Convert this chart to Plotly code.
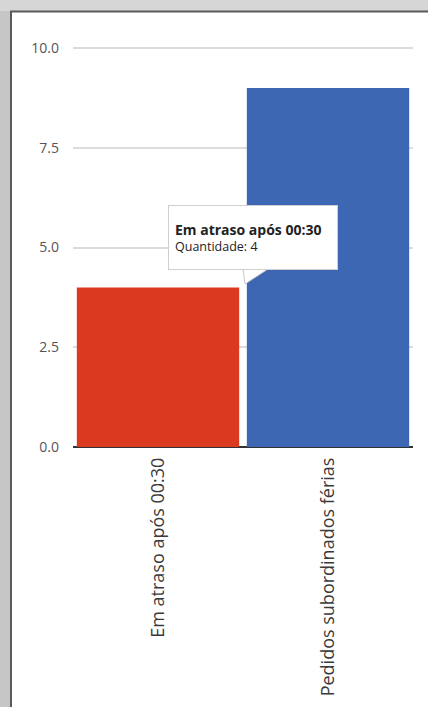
import plotly.graph_objects as go

categories = ["Em atraso após 00:30", "Pedidos subordinados férias"]
values = [4, 9]
colors = ["#db3a21", "#3d67b3"]
y_ticks = [0, 2.5, 5, 7.5, 10]
y_tick_labels = ["0.0", "2.5", "5.0", "7.5", "10.0"]
tooltip_title = "Em atraso após 00:30"
tooltip_label = "Quantidade"

W, H = 428, 707
L, R, T, B = 73, 15, 36, 260
pw, ph = W - L - R, H - T - B
YMAX = ph / 39.9

def px(x):
    return (x - L) / pw

def py(y):
    return (H - B - y) / ph

fig = go.Figure()
fig.add_trace(go.Bar(
    x=categories, y=values, marker=dict(color=colors, line=dict(width=0)),
    hoverinfo="skip", showlegend=False,
))

shapes = [
    # gray frame left and top
    dict(type="rect", xref="paper", yref="paper", x0=px(-5), x1=px(10), y0=py(H + 5), y1=py(-5),
         fillcolor="#c6c6c6", line=dict(width=0), layer="below"),
    dict(type="rect", xref="paper", yref="paper", x0=px(-5), x1=px(W + 5), y0=py(11), y1=py(-5),
         fillcolor="#d6d6d6", line=dict(width=0), layer="below"),
    dict(type="line", xref="paper", yref="paper", x0=px(11), x1=px(11), y0=py(11), y1=py(H + 5),
         line=dict(color="#5a5a5a", width=2)),
    dict(type="line", xref="paper", yref="paper", x0=px(10), x1=px(W + 5), y0=py(11.5), y1=py(11.5),
         line=dict(color="#5a5a5a", width=2)),
    # tooltip pointer
    dict(type="path", xref="paper", yref="paper",
         path=f"M {px(243)},{py(269)} L {px(245)},{py(284)} L {px(268)},{py(269)} Z",
         fillcolor="white", line=dict(color="#c8c8c8", width=1)),
]

fig.add_annotation(
    xref="x", yref="y", x=-0.5 + (168 - L) / pw * 2, y=YMAX * (H - B - 205) / ph,
    xanchor="left", yanchor="top", showarrow=False, align="left",
    text=(f"<span style='font-size:14px'><b>{tooltip_title}</b></span>"
          f"<br>{tooltip_label}: {values[0]}"),
    font=dict(family="Open Sans", size=12.5, color="#222222"),
    bgcolor="white", bordercolor="#cfcfcf", borderwidth=1, borderpad=6,
    width=156, height=51,
)

fig.update_layout(
    width=W, height=H,
    margin=dict(l=L, r=R, t=T, b=B, autoexpand=False),
    paper_bgcolor="white", plot_bgcolor="white",
    bargap=0.045,
    shapes=shapes,
    xaxis=dict(
        type="category", tickangle=-90, showgrid=False, showline=False, ticks="",
        tickfont=dict(family="Open Sans", size=18, color="#3a3a3a"),
        ticklabelstandoff=6,
        range=[-0.5, 1.5], fixedrange=True,
    ),
    yaxis=dict(
        range=[0, YMAX], tickvals=y_ticks, ticktext=y_tick_labels,
        showgrid=True, gridcolor="#dcdcdc", gridwidth=1.5,
        zeroline=True, zerolinecolor="#333333", zerolinewidth=1.5,
        tickfont=dict(family="Open Sans", size=14, color="#555555"),
        ticklabelstandoff=13, fixedrange=True,
    ),
)

fig.write_html(
    "out.html",
    config={"displayModeBar": False},
    post_script="document.body.style.margin='0';document.body.style.overflow='hidden';",
)
